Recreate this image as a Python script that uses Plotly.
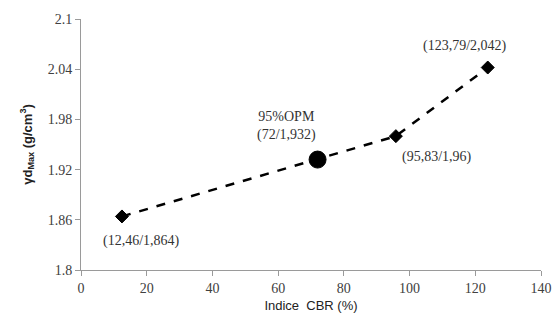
import plotly.graph_objects as go

cbr = [12.46, 72, 95.83, 123.79]
gd_max = [1.864, 1.932, 1.96, 2.042]
labels = ["(12,46/1,864)", "95%OPM<br>(72/1,932)", "(95,83/1,96)", "(123,79/2,042)"]
label_shift = [(20, -25), (-31, 34), (41, -21), (-23, 22)]
marker_symbols = ["diamond", "circle", "diamond", "diamond"]
marker_sizes = [10, 17, 10, 10]

SERIF = "'Liberation Serif', 'Times New Roman', 'DejaVu Serif', serif"
SANS = "'Liberation Sans', Arial, sans-serif"

fig = go.Figure()
fig.add_trace(go.Scatter(
    x=cbr, y=gd_max, mode="lines+markers",
    line=dict(color="black", width=2.5, dash="dash"),
    marker=dict(symbol=marker_symbols, size=marker_sizes, color="black",
                line=dict(color="black", width=1), opacity=1),
    showlegend=False,
))

for xv, yv, t, (dx, dy) in zip(cbr, gd_max, labels, label_shift):
    fig.add_annotation(x=xv, y=yv, text=t, showarrow=False,
                       xshift=dx, yshift=dy,
                       font=dict(family=SERIF, size=14, color="#333333"))

axis_common = dict(showgrid=False, zeroline=False, showline=True,
                   linecolor="#9a9a9a", linewidth=1, ticks="outside",
                   tickcolor="#9a9a9a", ticklen=5, automargin=False,
                   tickfont=dict(family=SERIF, size=14, color="#404040"))

fig.update_layout(
    width=552, height=327,
    margin=dict(l=81, r=11, t=19, b=57),
    paper_bgcolor="white", plot_bgcolor="white",
    font=dict(family=SERIF),
    xaxis=dict(range=[0, 140], dtick=20,
               title=dict(text="Indice  CBR (%)", standoff=6,
                          font=dict(family=SANS, size=13, color="#222222")),
               **axis_common),
    yaxis=dict(range=[1.8, 2.1], tickvals=[1.8, 1.86, 1.92, 1.98, 2.04, 2.1],
               ticktext=["1.8", "1.86", "1.92", "1.98", "2.04", "2.1"],
               title=dict(text="<b>γd<sub>Max</sub> (g/cm<sup>3</sup>)</b>", standoff=12,
                          font=dict(family=SANS, size=13, color="#222222")),
               **axis_common),
)

fig.write_html("out.html", config={"displayModeBar": False},
               post_script="document.body.style.margin='0';document.body.style.overflow='hidden';")
